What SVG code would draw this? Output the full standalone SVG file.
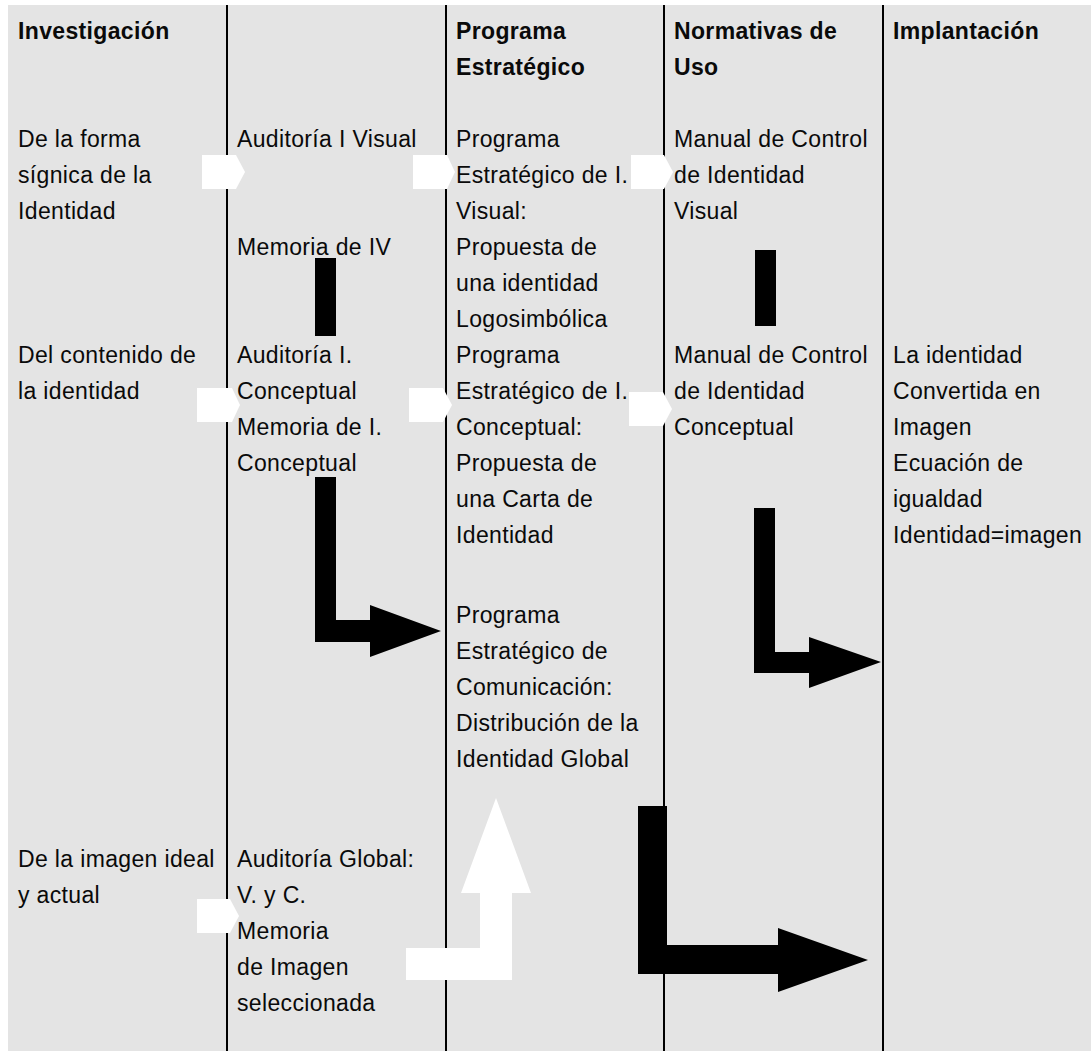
<svg xmlns="http://www.w3.org/2000/svg" width="1091" height="1051" viewBox="0 0 1091 1051">
  <style>
    text { font-family: "Liberation Sans", Arial, Helvetica, sans-serif; font-size: 23px; letter-spacing: 0.35px; fill: #0a0a0a; }
    .head { font-weight: bold; letter-spacing: 0.35px; }
    .rule { stroke: #000; stroke-width: 2; }
    .white { fill: #fff; }
    .black { fill: #000; }
  </style>

  <!-- sheet background -->
  <rect x="8" y="5" width="1083" height="1046" fill="#e4e4e4"/>

  <!-- column dividers -->
  <g id="dividers">
    <line class="rule" x1="227" y1="5" x2="227" y2="1051"/>
    <line class="rule" x1="446" y1="5" x2="446" y2="1051"/>
    <line class="rule" x1="664" y1="5" x2="664" y2="1051"/>
    <line class="rule" x1="883" y1="5" x2="883" y2="1051"/>
  </g>

  <!-- column headings -->
  <g id="head-investigacion">
    <text class="head" x="18" y="39">Investigación</text>
  </g>
  <g id="head-programa">
    <text class="head" x="456" y="39">Programa<tspan x="456" dy="36">Estratégico</tspan></text>
  </g>
  <g id="head-normativas">
    <text class="head" x="674" y="39">Normativas de<tspan x="674" dy="36">Uso</tspan></text>
  </g>
  <g id="head-implantacion">
    <text class="head" x="893" y="39">Implantación</text>
  </g>

  <!-- investigation column -->
  <g id="inv-forma">
    <text x="18" y="147">De la forma<tspan x="18" dy="36">sígnica de la</tspan><tspan x="18" dy="36">Identidad</tspan></text>
  </g>
  <g id="inv-contenido">
    <text x="18" y="363">Del contenido de<tspan x="18" dy="36">la identidad</tspan></text>
  </g>
  <g id="inv-imagen">
    <text x="18" y="867">De la imagen ideal<tspan x="18" dy="36">y actual</tspan></text>
  </g>

  <!-- audit column -->
  <g id="aud-visual">
    <text x="237" y="147">Auditoría I Visual</text>
  </g>
  <g id="mem-visual">
    <text x="237" y="255">Memoria de IV</text>
  </g>
  <g id="aud-conceptual">
    <text x="237" y="363">Auditoría I.<tspan x="237" dy="36">Conceptual</tspan><tspan x="237" dy="36">Memoria de I.</tspan><tspan x="237" dy="36">Conceptual</tspan></text>
  </g>
  <g id="aud-global">
    <text x="237" y="867">Auditoría Global:<tspan x="237" dy="36">V. y C.</tspan><tspan x="237" dy="36">Memoria</tspan><tspan x="237" dy="36">de Imagen</tspan><tspan x="237" dy="36">seleccionada</tspan></text>
  </g>

  <!-- strategic programme column -->
  <g id="prog-visual">
    <text x="456" y="147">Programa<tspan x="456" dy="36">Estratégico de I.</tspan><tspan x="456" dy="36">Visual:</tspan><tspan x="456" dy="36">Propuesta de</tspan><tspan x="456" dy="36">una identidad</tspan><tspan x="456" dy="36">Logosimbólica</tspan></text>
  </g>
  <g id="prog-conceptual">
    <text x="456" y="363">Programa<tspan x="456" dy="36">Estratégico de I.</tspan><tspan x="456" dy="36">Conceptual:</tspan><tspan x="456" dy="36">Propuesta de</tspan><tspan x="456" dy="36">una Carta de</tspan><tspan x="456" dy="36">Identidad</tspan></text>
  </g>
  <g id="prog-comunicacion">
    <text x="456" y="623">Programa<tspan x="456" dy="36">Estratégico de</tspan><tspan x="456" dy="36">Comunicación:</tspan><tspan x="456" dy="36">Distribución de la</tspan><tspan x="456" dy="36">Identidad Global</tspan></text>
  </g>

  <!-- usage rules column -->
  <g id="manual-visual">
    <text x="674" y="147">Manual de Control<tspan x="674" dy="36">de Identidad</tspan><tspan x="674" dy="36">Visual</tspan></text>
  </g>
  <g id="manual-conceptual">
    <text x="674" y="363">Manual de Control<tspan x="674" dy="36">de Identidad</tspan><tspan x="674" dy="36">Conceptual</tspan></text>
  </g>

  <!-- implementation column -->
  <g id="impl-imagen">
    <text x="893" y="363">La identidad<tspan x="893" dy="36">Convertida en</tspan><tspan x="893" dy="36">Imagen</tspan><tspan x="893" dy="36">Ecuación de</tspan><tspan x="893" dy="36">igualdad</tspan><tspan x="893" dy="36">Identidad=imagen</tspan></text>
  </g>

  <!-- flow arrows -->
  <g id="connectors">
    <!-- small white step markers across the dividers -->
    <polygon class="white" points="202,155 236,155 245,172 236,189 202,189"/>
    <polygon class="white" points="413,155 447,155 455,172 447,189 413,189"/>
    <polygon class="white" points="631,155 664,155 673,172 664,189 631,189"/>
    <polygon class="white" points="197,388 232,388 240,405 232,422 197,422"/>
    <polygon class="white" points="409,388 443,388 452,405 443,422 409,422"/>
    <polygon class="white" points="629,392 663,392 672,409 663,426 629,426"/>
    <polygon class="white" points="197,899 230,899 239,916 230,933 197,933"/>

    <!-- vertical links -->
    <rect class="black" x="315" y="258" width="21" height="78"/>
    <rect class="black" x="755" y="250" width="21" height="76"/>

    <!-- elbow arrows -->
    <polygon class="black" points="315,477 336,477 336,620 370,620 370,605 441,631 370,657 370,642 315,642"/>
    <polygon class="black" points="754,508 775,508 775,652 809,652 809,637 881,662 809,688 809,673 754,673"/>
    <polygon class="black" points="638,806 667,806 667,945 778,945 778,928 868,960 778,992 778,974 638,974"/>
    <polygon class="white" points="406,948 480,948 480,893 461,893 496,798 531,893 512,893 512,980 406,980"/>
  </g>
</svg>
